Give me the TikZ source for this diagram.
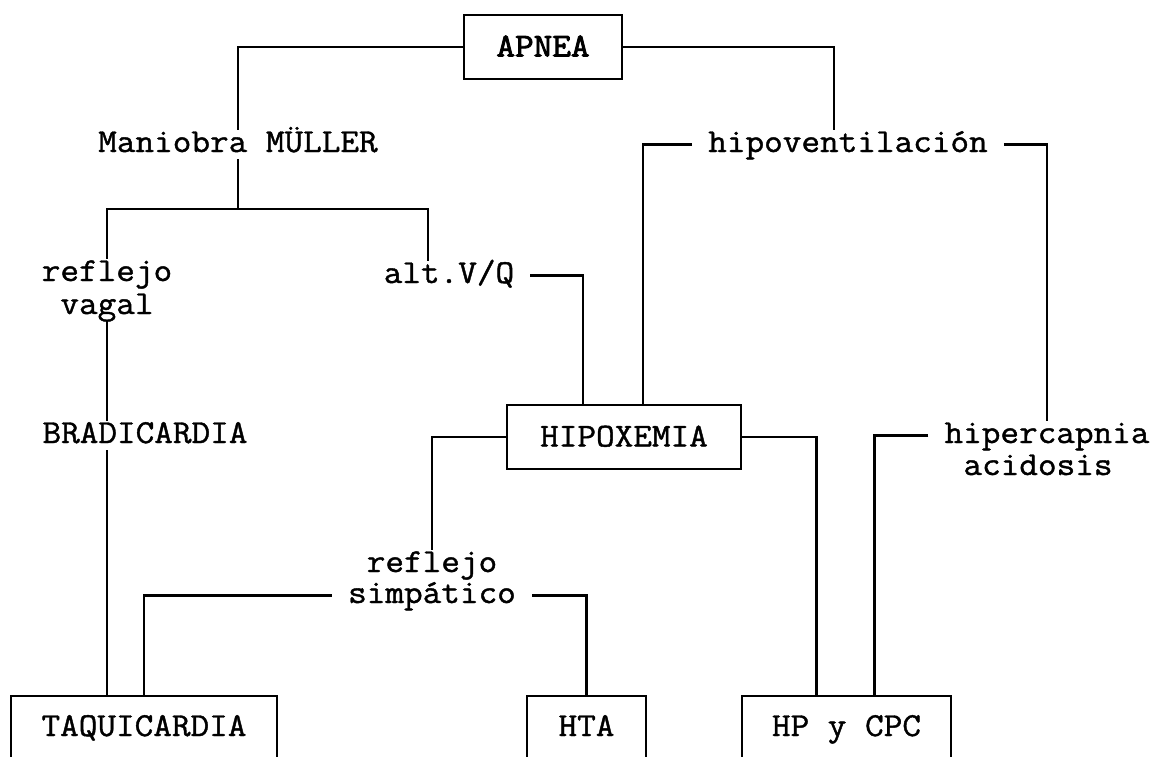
\documentclass[tikz,border=0pt]{standalone}
\usepackage{fontspec}
\newfontfamily\typefam{Latin Modern Mono}[FakeStretch=1.08, FakeBold=1.2]
\newfontfamily\typebold{Latin Modern Mono}[FakeStretch=1.08, FakeBold=2.6]
\usetikzlibrary{positioning}
\newcommand{\typew}{\typefam\fontsize{33.5}{31}\selectfont}
\newcommand{\typewb}{\typebold\fontsize{33.5}{31}\selectfont}
\tikzset{
  lbl/.style={font=\typew, inner xsep=16pt, inner ysep=3pt,
              text height=19pt, text depth=4pt},
  tbox/.style={draw, line width=2.3pt, font=\typew, inner sep=0pt,
               text height=19pt, text depth=0pt, minimum height=64pt},
  obox/.style={font=\typew, inner sep=0pt,
               text height=19pt, text depth=0pt, minimum height=61pt},
  lnk/.style={line width=2.3pt},
}

\begin{document}
\begin{tikzpicture}[x=1pt, y=-1pt]
  \useasboundingbox (0,0) rectangle (1156,757);

  \node[tbox, font=\typewb, minimum width=158pt] (apnea) at (543,47) {APNEA};

  \node[lbl, anchor=base] (muller) at (238,152) {Maniobra MÜLLER};
  \node[lbl, anchor=base] (hipovent) at (848,152) {hipoventilación};

  \node[lbl, anchor=base] (refvag) at (107,281) {reflejo};
  \node[lbl, anchor=base] (vagal) at (107,314) {vagal};
  \node[lbl, anchor=base] (altvq) at (449,283) {alt.V/Q};

  \node[lbl, anchor=base] (bradi) at (145,443) {BRADICARDIA};
  \node[tbox, minimum width=234pt] (hipox) at (624,437) {HIPOXEMIA};
  \node[lbl, anchor=base] (hipercap) at (1047,443) {hipercapnia};
  \node[lbl, anchor=base] (acid) at (1038,475) {acidosis};

  \node[lbl, anchor=base] (refsim) at (432,572) {reflejo};
  \node[lbl, anchor=base] (simpat) at (432,603) {simpático};

  % bottom boxes, cut off by the page edge
  \node[obox, minimum width=266pt] (taqui) at (144,726.5) {TAQUICARDIA};
  \node[obox, minimum width=119pt] (hta) at (586.5,726.5) {HTA};
  \node[obox, minimum width=209pt] (hpcpc) at (846.5,726.5) {HP y CPC};
  \foreach \b in {taqui, hta, hpcpc}
    \draw[lnk] (\b.south west) |- (\b.north east) -- (\b.south east);

  \coordinate (split) at (238,209);

  \draw[lnk] (apnea.west) -| (muller.north);
  \draw[lnk] (apnea.east) -| ([xshift=-14pt]hipovent.north);
  \draw[lnk] (muller.south) -- (split);
  \draw[lnk] (refvag.north) |- (split) -| ([xshift=-21pt]altvq.north);
  \draw[lnk] (vagal.south) -- (vagal.south |- bradi.north);
  \draw[lnk] (bradi.south -| vagal.south) -- (vagal.south |- taqui.north);
  \draw[lnk] (altvq.east) -| ([xshift=-41pt]hipox.north);
  \draw[lnk] (hipovent.west) -| ([xshift=19pt]hipox.north);
  \draw[lnk] (hipovent.east) -| (hipercap.north);
  \draw[lnk] (hipox.west) -| (refsim.north);
  \draw[lnk] (hipox.east) -| ([xshift=-30pt]hpcpc.north);
  \draw[lnk] (hipercap.west) -| ([xshift=28pt]hpcpc.north);
  \draw[lnk] (simpat.west) -| (taqui.north);
  \draw[lnk] (simpat.east) -| (hta.north);
\end{tikzpicture}
\end{document}
